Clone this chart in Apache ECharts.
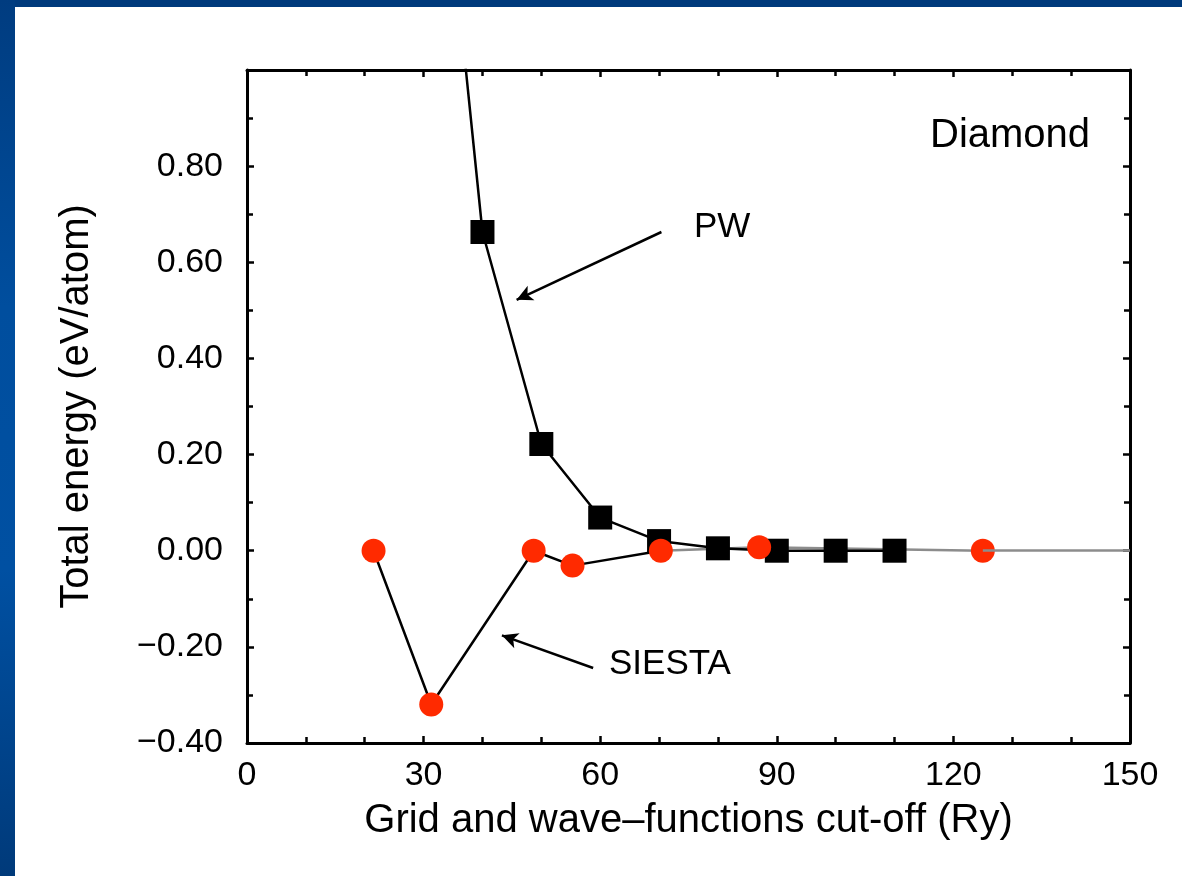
<!DOCTYPE html>
<html>
<head>
<meta charset="utf-8">
<script src="https://cdn.jsdelivr.net/npm/echarts@6/dist/echarts.min.js"></script>
<style>
html,body{margin:0;padding:0;background:#fff;}
#chart{width:1182px;height:876px;}
</style>
</head>
<body>
<div id="chart"></div>
<script>
// ---- data ----
const xTickValues = [0, 30, 60, 90, 120, 150];
const yTickValues = [-0.4, -0.2, 0.0, 0.2, 0.4, 0.6, 0.8];

const pwCutoff = [30, 40, 50, 60, 70, 80, 90, 100, 110];
const pwEnergy = [1.86, 0.663, 0.222, 0.069, 0.02, 0.005, 0.0, 0.0, 0.0];

const siestaCutoff = [21.5, 31.3, 48.7, 55.3, 70.3, 87.0, 125.0];
const siestaEnergy = [0.0, -0.32, 0.0, -0.031, 0.0, 0.007, 0.0];

const xAxisTitle = 'Grid and wave\u2013functions cut-off (Ry)';
const yAxisTitle = 'Total energy (eV/atom)';
const panelLabel = 'Diamond';
const pwLabel = 'PW';
const siestaLabel = 'SIESTA';

// annotation arrows in data coordinates [tail, head]
const pwArrow = [[70.4, 0.663], [45.8, 0.522]];
const siestaArrow = [[58.8, -0.244], [43.3, -0.176]];

// ---- build ----
const pwData = pwCutoff.map((x, i) => [x, pwEnergy[i]]);
const siestaData = siestaCutoff.map((x, i) => [x, siestaEnergy[i]]);
const siestaHead = siestaData.filter(p => p[0] <= 70.3);
const siestaTail = siestaData.filter(p => p[0] >= 70.3);
const lastS = siestaData[siestaData.length - 1];

const FONT = "'Liberation Sans', Arial, Helvetica, sans-serif";

function fmtY(v) {
  const r = Math.round(v * 100) / 100;
  return (r < 0 ? '\u2212' : '') + Math.abs(r).toFixed(2);
}

const chart = echarts.init(document.getElementById('chart'), null, {renderer: 'canvas'});

const axisCommon = {
  axisLine: {show: true, onZero: false, lineStyle: {color: '#000', width: 3}},
  axisTick: {show: true, inside: true, length: 7, lineStyle: {color: '#000', width: 2.5}},
  minorTick: {show: true, length: 6, lineStyle: {color: '#000', width: 2.5}},
  splitLine: {show: false},
  minorSplitLine: {show: false}
};

const option = {
  animation: false,
  backgroundColor: '#ffffff',
  grid: {left: 247, right: 52, top: 70, bottom: 133, containLabel: false},
  xAxis: [
    Object.assign({
      type: 'value', position: 'bottom', min: 0, max: 150, interval: 30,
      name: xAxisTitle, nameLocation: 'middle', nameGap: 58,
      nameTextStyle: {fontFamily: FONT, fontSize: 40, color: '#000'},
      axisLabel: {
        show: true, margin: 16, fontFamily: FONT, fontSize: 34, color: '#000',
        formatter: v => xTickValues.indexOf(v) >= 0 ? String(v) : ''
      }
    }, axisCommon, {minorTick: Object.assign({}, axisCommon.minorTick, {splitNumber: 3})}),
    Object.assign({
      type: 'value', position: 'top', min: 0, max: 150, interval: 30,
      axisLabel: {show: false}
    }, axisCommon, {minorTick: Object.assign({}, axisCommon.minorTick, {splitNumber: 3})})
  ],
  yAxis: [
    Object.assign({
      type: 'value', position: 'left', min: -0.4, max: 1.0, interval: 0.2,
      name: yAxisTitle, nameLocation: 'middle', nameGap: 150, nameRotate: 90,
      nameTextStyle: {fontFamily: FONT, fontSize: 40, color: '#000'},
      axisLabel: {
        show: true, margin: 24, fontFamily: FONT, fontSize: 34, color: '#000',
        showMaxLabel: false,
        formatter: v => {
          const r = Math.round(v * 100) / 100;
          return yTickValues.some(t => Math.abs(t - r) < 1e-6) ? fmtY(r) : '';
        }
      }
    }, axisCommon, {minorTick: Object.assign({}, axisCommon.minorTick, {splitNumber: 2})}),
    Object.assign({
      type: 'value', position: 'right', min: -0.4, max: 1.0, interval: 0.2,
      axisLabel: {show: false}
    }, axisCommon, {minorTick: Object.assign({}, axisCommon.minorTick, {splitNumber: 2})})
  ],
  series: [
    {
      name: 'SIESTA tail',
      type: 'line',
      data: siestaTail,
      symbol: 'none',
      clip: true,
      z: 1,
      lineStyle: {color: '#8c8c8c', width: 2.5},
      markLine: {
        silent: true, symbol: ['none', 'none'],
        label: {show: false},
        lineStyle: {color: '#8c8c8c', width: 2.5, type: 'solid'},
        data: [[{coord: lastS}, {coord: [150, lastS[1]]}]]
      }
    },
    {
      name: 'SIESTA line',
      type: 'line',
      data: siestaHead,
      symbol: 'none',
      clip: true,
      z: 2,
      lineStyle: {color: '#000', width: 2.5}
    },
    {
      name: 'PW',
      type: 'line',
      data: pwData,
      symbol: 'rect',
      symbolSize: 24,
      clip: true,
      z: 3,
      itemStyle: {color: '#000'},
      lineStyle: {color: '#000', width: 2.5},
      markLine: {
        silent: true, symbol: ['none', 'arrow'], symbolSize: [12, 16],
        label: {show: false},
        lineStyle: {color: '#000', width: 2.5, type: 'solid'},
        data: [
          [{coord: pwArrow[0]}, {coord: pwArrow[1]}],
          [{coord: siestaArrow[0]}, {coord: siestaArrow[1]}]
        ]
      }
    },
    {
      name: 'SIESTA',
      type: 'scatter',
      data: siestaData,
      symbol: 'circle',
      symbolSize: 24,
      z: 4,
      itemStyle: {color: '#ff2a00', opacity: 1}
    }
  ],
  graphic: [
    {type: 'rect', left: 0, top: 0, shape: {width: 1182, height: 7}, style: {fill: '#003a7c'}, z: 100},
    {type: 'rect', left: 0, top: 0, shape: {width: 15, height: 876},
     style: {fill: new echarts.graphic.LinearGradient(0, 0, 0, 1, [
       {offset: 0, color: '#003c80'}, {offset: 0.35, color: '#004e9e'},
       {offset: 0.65, color: '#0050a2'}, {offset: 1, color: '#003a7a'}])}, z: 100},
    {type: 'text', left: 930, top: 116, style: {text: panelLabel, font: '40px ' + FONT, fill: '#000'}, z: 50},
    {type: 'text', left: 694, top: 210, style: {text: pwLabel, font: '35px ' + FONT, fill: '#000'}, z: 50},
    {type: 'text', left: 609, top: 647, style: {text: siestaLabel, font: '35px ' + FONT, fill: '#000'}, z: 50}
  ]
};

chart.setOption(option);
</script>
</body>
</html>
